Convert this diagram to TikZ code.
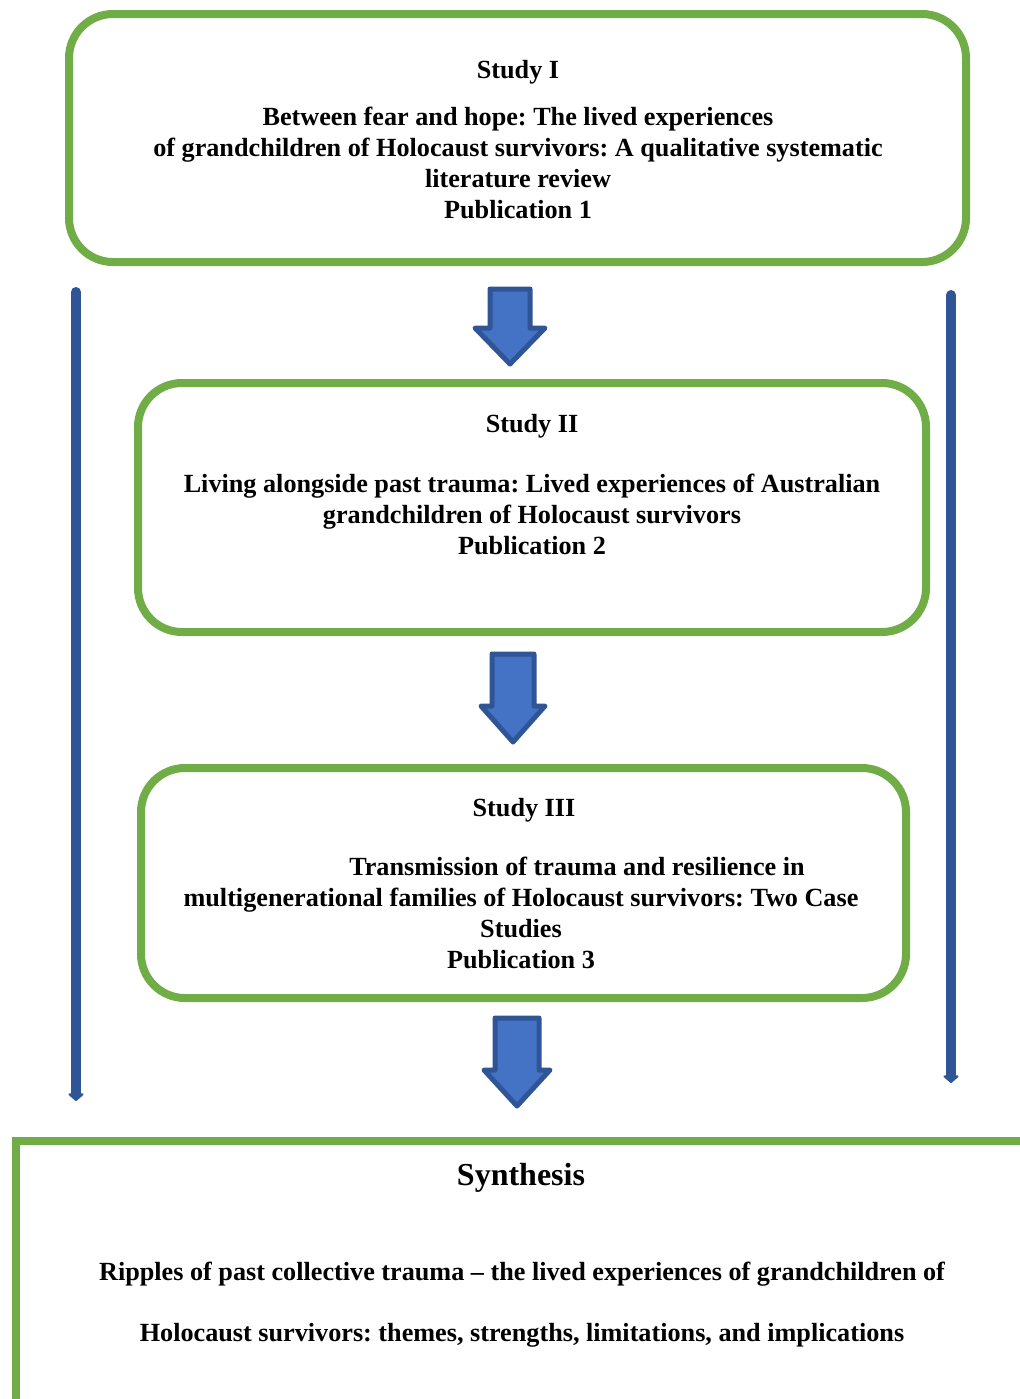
\documentclass[tikz,border=0pt]{standalone}
\usepackage{fontspec}
\setmainfont{Liberation Serif}
\usetikzlibrary{arrows.meta}
\definecolor{boxgreen}{HTML}{70AD47}
\definecolor{arrowfill}{HTML}{4472C4}
\definecolor{arrowedge}{HTML}{2F5597}
\frenchspacing
\tikzset{
  studybox/.style={draw=boxgreen, line width=4pt, rounded corners=22pt, inner sep=0pt},
  studytext/.style={align=center, inner sep=0pt, font=\bfseries\fontsize{13.1}{15.5}\selectfont},
  blockarrow/.style={fill=arrowfill, draw=arrowedge, line width=2.5pt, line join=round},
  sideline/.style={draw=arrowedge, line width=5pt, line cap=round, -{Triangle[round, width=9pt, length=4pt]}}
}
\begin{document}
\begin{tikzpicture}[x=0.5pt, y=-0.5pt]
  \useasboundingbox (0,0) rectangle (1019,1399);

  % study boxes
  \node [studybox, minimum width=448.5pt, minimum height=124pt] (st1) at (517.5,138) {};
  \node [studybox, minimum width=394pt, minimum height=124.5pt] (st2) at (532,507.5) {};
  \node [studybox, minimum width=382.5pt, minimum height=115pt] (st3) at (523.5,883) {};
  \draw [boxgreen, line width=4pt] (1040,1141) -- (16,1141) -- (16,1420);

  % texts
  \node [studytext] (t1) at (518,72) {Study I};
  \node [studytext] (b1) at (518,163) {Between fear and hope: The lived experiences\\
    of grandchildren of Holocaust survivors: A qualitative systematic\\
    literature review\\ Publication 1};
  \node [studytext] (t2) at (532,426) {Study II};
  \node [studytext] (b2) at (532,514) {Living alongside past trauma: Lived experiences of Australian\\
    grandchildren of Holocaust survivors\\ Publication 2};
  \node [studytext] (t3) at (524,810) {Study III};
  \node [studytext] (b3) at (521,913) {\hspace*{56pt}Transmission of trauma and resilience in\\
    multigenerational families of Holocaust survivors: Two Case\\
    Studies\\ Publication 3};
  \node [studytext, font=\bfseries\fontsize{16}{19}\selectfont] (ts) at (521,1178) {Synthesis};
  \node [studytext, font=\bfseries\fontsize{13.1}{30.5}\selectfont] (bs) at (522,1305)
    {Ripples of past collective trauma – the lived experiences of grandchildren of\\
    Holocaust survivors: themes, strengths, limitations, and implications};

  % block arrows between the studies
  \foreach \cx/\ty/\tip/\sw/\hw in {510/289/364/20/35, 513/654/742/21/32, 517/1018/1106/22/33}
    \draw [blockarrow] (\cx-\sw,\ty) -- (\cx+\sw,\ty) -- (\cx+\sw,\tip-36) -- (\cx+\hw,\tip-36)
      -- (\cx,\tip) -- (\cx-\hw,\tip-36) -- (\cx-\sw,\tip-36) -- cycle;

  % side lines
  \coordinate (l1) at (76,292);
  \coordinate (l2) at (76,1101);
  \coordinate (r1) at (951,295);
  \coordinate (r2) at (951,1083);
  \draw [sideline] (l1) -- (l2);
  \draw [sideline] (r1) -- (r2);
\end{tikzpicture}
\end{document}
